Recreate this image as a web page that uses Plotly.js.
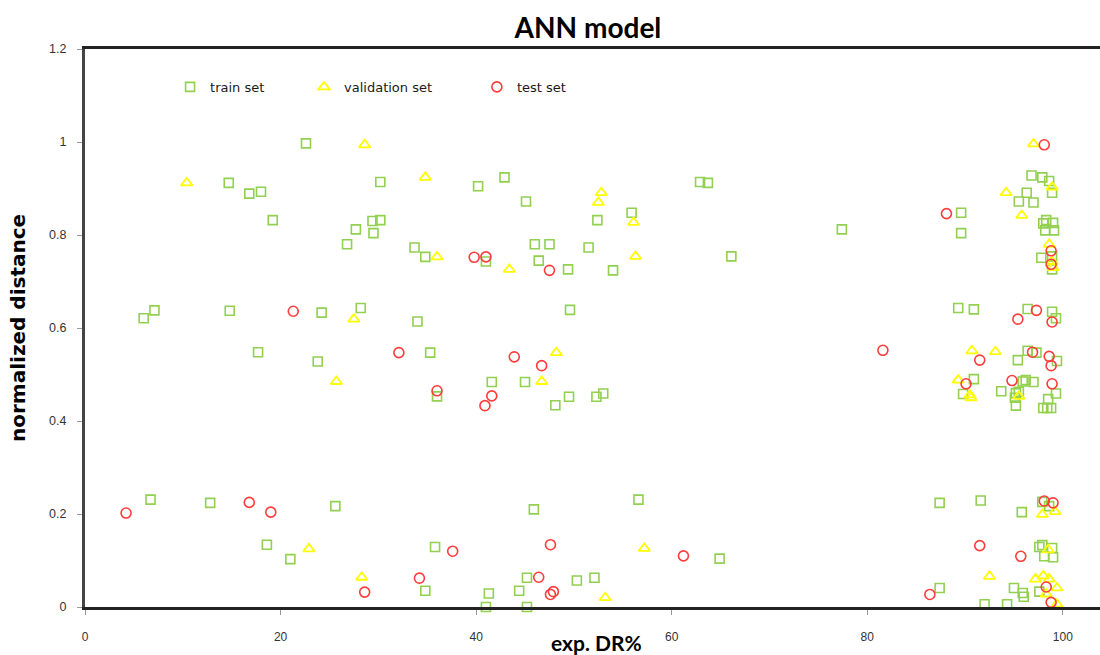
<!DOCTYPE html>
<html>
<head>
<meta charset="utf-8">
<script src="https://cdn.plot.ly/plotly-3.0.1.min.js"></script>
<style>html,body{margin:0;padding:0;background:#fff;}#chart{width:1100px;height:655px;}</style>
</head>
<body>
<div id="chart"></div>
<script>
// train set (squares)
const trainX = [22.6,14.7,16.8,18.0,30.2,19.2,29.4,30.2,27.7,29.5,26.8,6.0,7.1,14.8,24.2,28.2,17.7,23.8,
  40.2,42.9,45.1,52.4,55.9,62.9,63.7,33.7,34.8,41.0,46.0,47.5,46.4,49.4,51.5,54.0,49.6,34.0,35.3,66.1,77.4,
  36.0,41.6,45.0,48.1,49.5,52.3,53.0,
  6.7,12.8,25.6,18.6,21.0,
  35.8,34.8,45.9,56.6,64.9,45.2,44.4,41.3,41.0,45.2,50.3,52.1,
  87.4,91.6,95.8,97.9,98.6,97.6,97.9,98.9,98.1,99.0,87.4,92.0,94.3,95.0,95.9,96.0,97.6,
  96.8,97.9,98.6,98.9,96.3,95.5,97.0,89.6,89.6,98.3,98.0,99.0,98.2,99.1,97.8,98.9,98.9,
  89.3,90.9,96.4,98.9,99.3,96.4,97.3,95.4,99.4,
  90.9,89.8,93.7,95.9,96.2,97.0,99.3,95.2,95.5,95.1,95.2,98.5,98.0,98.4,98.8];
const trainY = [0.997,0.912,0.889,0.893,0.914,0.832,0.830,0.832,0.812,0.804,0.780,0.621,0.638,0.637,0.633,0.643,0.548,0.528,
  0.905,0.924,0.872,0.832,0.848,0.914,0.912,0.773,0.753,0.743,0.780,0.780,0.745,0.726,0.773,0.724,0.639,0.614,0.547,0.754,0.812,
  0.453,0.484,0.484,0.434,0.452,0.452,0.459,
  0.231,0.224,0.217,0.134,0.103,
  0.129,0.035,0.210,0.231,0.104,0.063,0.035,0.029,0.0,0.0,0.057,0.063,
  0.224,0.229,0.204,0.226,0.217,0.129,0.133,0.127,0.109,0.107,0.041,0.006,0.006,0.041,0.030,0.022,0.033,
  0.928,0.924,0.916,0.891,0.891,0.872,0.870,0.848,0.804,0.832,0.825,0.826,0.810,0.810,0.751,0.754,0.726,
  0.643,0.640,0.641,0.635,0.621,0.551,0.547,0.531,0.529,
  0.490,0.458,0.464,0.485,0.488,0.484,0.459,0.460,0.463,0.450,0.433,0.447,0.428,0.428,0.428];

// validation set (triangles)
const valX = [28.6,10.4,27.5,25.7,34.8,52.8,52.5,56.1,36.0,43.4,56.3,48.2,46.7,
  22.9,28.3,57.2,53.2,
  97.9,99.2,98.5,92.5,97.2,98.0,98.6,99.4,98.3,99.4,
  97.0,98.9,94.2,95.8,98.6,98.9,99.0,
  90.7,93.1,89.3,90.5,90.6,95.5];
const valY = [0.994,0.912,0.619,0.485,0.924,0.891,0.870,0.827,0.753,0.726,0.754,0.547,0.485,
  0.125,0.064,0.126,0.020,
  0.199,0.205,0.123,0.066,0.060,0.067,0.060,0.041,0.028,0.006,
  0.996,0.903,0.891,0.842,0.780,0.743,0.730,
  0.551,0.549,0.488,0.456,0.450,0.453];

// test set (circles)
const testX = [21.3,39.8,41.0,47.5,32.1,43.9,46.7,36.0,41.6,40.9,
  4.2,16.8,19.0,28.6,37.6,34.2,47.6,61.2,46.4,47.6,47.9,
  98.1,99.0,91.5,95.7,86.4,98.3,98.8,
  98.1,88.1,98.8,98.8,97.3,98.9,95.4,81.6,91.5,96.9,98.6,98.8,90.1,94.8,98.9];
const testY = [0.636,0.752,0.753,0.724,0.547,0.538,0.519,0.465,0.454,0.433,
  0.202,0.225,0.204,0.032,0.120,0.062,0.134,0.110,0.064,0.027,0.033,
  0.228,0.224,0.132,0.109,0.027,0.043,0.010,
  0.994,0.846,0.766,0.737,0.638,0.613,0.619,0.552,0.531,0.548,0.539,0.519,0.480,0.487,0.480];

const xTicks = [0,20,40,60,80,100];
const yTicks = [0,0.2,0.4,0.6,0.8,1,1.2];

const traces = [
  {type:'scatter', mode:'markers', name:'train set', x:trainX, y:trainY, cliponaxis:false,
   marker:{symbol:'square-open', size:9, color:'#92D050', line:{width:1.6, color:'#92D050'}}, legend:'legend'},
  {type:'scatter', mode:'markers', name:'validation set', x:valX, y:valY, cliponaxis:false,
   marker:{symbol:'triangle-up-open', size:10, color:'#FFFF00', line:{width:1.8, color:'#FFFF00'}}, legend:'legend2'},
  {type:'scatter', mode:'markers', name:'test set', x:testX, y:testY, cliponaxis:false,
   marker:{symbol:'circle-open', size:10, color:'#FF3B3B', line:{width:1.6, color:'#FF3B3B'}}, legend:'legend3'}
];

const legFont = {family:'DejaVu Sans', size:13, color:'#1a1a1a'};
const legBase = {orientation:'h', yanchor:'middle', xanchor:'left', bgcolor:'rgba(0,0,0,0)', font:legFont, itemwidth:30};

const layout = {
  width:1100, height:655,
  margin:{l:85, r:0, t:49, b:48},
  paper_bgcolor:'#fff', plot_bgcolor:'#fff',
  title:{text:'ANN model', font:{family:'Lato', size:28, color:'#000', weight:'bold'},
         x:0.5345, xref:'container', xanchor:'center', y:0.957, yref:'container', yanchor:'middle'},
  showlegend:true,
  legend: Object.assign({}, legBase, {x:0.0838, y:0.932}),
  legend2: Object.assign({}, legBase, {x:0.2158, y:0.932}),
  legend3: Object.assign({}, legBase, {x:0.3861, y:0.932}),
  xaxis:{range:[0,103.8], tickvals:xTicks, ticktext:xTicks.map(String), showgrid:false, zeroline:false,
         showline:true, linecolor:'#222', linewidth:3, mirror:true,
         ticks:'outside', ticklen:5, tickcolor:'#999', tickwidth:1, ticklabelstandoff:12,
         tickfont:{family:'Liberation Sans', size:12, color:'#333'}},
  yaxis:{range:[0,1.2], tickvals:yTicks, ticktext:['0','0.2','0.4','0.6','0.8','1','1.2'], showgrid:false, zeroline:false,
         showline:true, linecolor:'#444', linewidth:3,
         ticks:'outside', ticklen:5, tickcolor:'#999', tickwidth:1, ticklabelstandoff:8,
         tickfont:{family:'Liberation Sans', size:12.5, color:'#333'}},
  annotations:[
    {text:'exp. DR%', xref:'paper', yref:'paper', x:0.504, y:-0.064, xanchor:'center', yanchor:'middle', showarrow:false,
     font:{family:'Lato', size:21, color:'#000', weight:'bold'}},
    {text:'normalized distance', xref:'paper', yref:'paper', x:-0.066, y:0.5, xanchor:'center', yanchor:'middle', showarrow:false, textangle:-90,
     font:{family:'DejaVu Sans', size:20, color:'#000', weight:'bold'}}
  ]
};

Plotly.newPlot('chart', traces, layout, {displayModeBar:false, staticPlot:true});
</script>
</body>
</html>
